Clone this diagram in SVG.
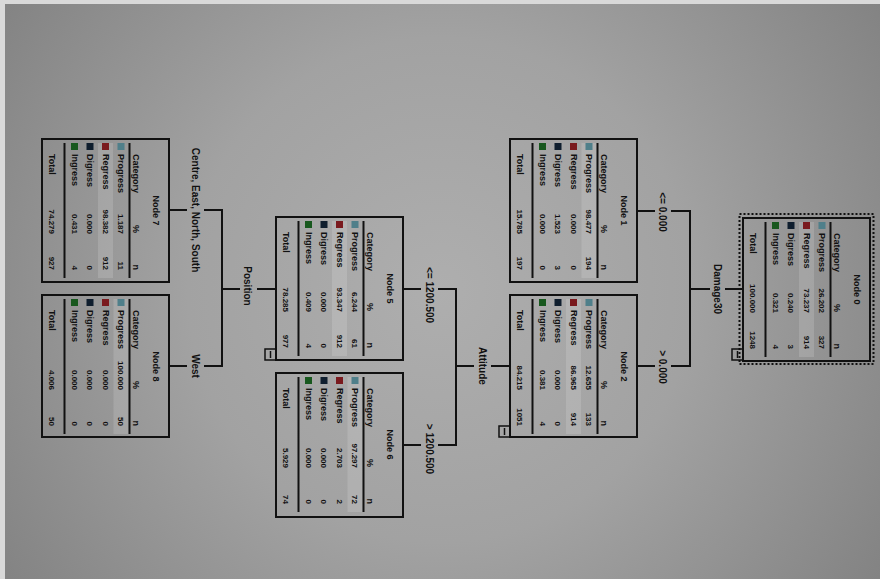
<svg xmlns="http://www.w3.org/2000/svg" width="880" height="579" viewBox="0 0 880 579">
<defs>
<radialGradient id="bg" gradientUnits="userSpaceOnUse" cx="440" cy="290" r="560">
<stop offset="0" stop-color="#aeaeae"/>
<stop offset="0.45" stop-color="#a2a2a2"/>
<stop offset="1" stop-color="#7f7f7f"/>
</radialGradient>
</defs>
<style>
.t{font-family:"Liberation Sans",Arial,sans-serif;font-weight:bold;font-size:9px;fill:#111}
.lb{font-size:10px}
.n{font-size:8px}
.e{text-anchor:end}
.m{text-anchor:middle}
.box{fill:none;stroke:#111;stroke-width:2}
.ln{stroke:#111;stroke-width:2;fill:none}
.hl{fill:#ffffff;fill-opacity:0.14}
.c1{fill:#4f7f8a}
.c2{fill:#7a1a1e}
.c3{fill:#0f1e2e}
.c4{fill:#18581e}
.tg{fill:none;stroke:#111;stroke-width:1.5}
</style>
<rect x="0" y="0" width="880" height="579" fill="#d9d9d9"/>
<rect x="5" y="4" width="875" height="575" fill="url(#bg)"/>

<g id="connectors">
<line class="ln" x1="743" y1="289" x2="725" y2="289"/>
<line class="ln" x1="710" y1="289" x2="690" y2="289"/>
<line class="ln" x1="690" y1="210" x2="690" y2="367"/>
<line class="ln" x1="691" y1="211" x2="671" y2="211"/>
<line class="ln" x1="655" y1="211" x2="637" y2="211"/>
<line class="ln" x1="691" y1="366" x2="671" y2="366"/>
<line class="ln" x1="655" y1="366" x2="637" y2="366"/>
<line class="ln" x1="510" y1="366" x2="491" y2="366"/>
<line class="ln" x1="474" y1="366" x2="456" y2="366"/>
<line class="ln" x1="456" y1="288" x2="456" y2="446"/>
<line class="ln" x1="457" y1="289" x2="438" y2="289"/>
<line class="ln" x1="421" y1="289" x2="403" y2="289"/>
<line class="ln" x1="457" y1="445" x2="438" y2="445"/>
<line class="ln" x1="421" y1="445" x2="403" y2="445"/>
<line class="ln" x1="276" y1="289" x2="257" y2="289"/>
<line class="ln" x1="240" y1="289" x2="222" y2="289"/>
<line class="ln" x1="222" y1="209" x2="222" y2="367"/>
<line class="ln" x1="223" y1="210" x2="204" y2="210"/>
<line class="ln" x1="187" y1="210" x2="169" y2="210"/>
<line class="ln" x1="223" y1="366" x2="204" y2="366"/>
<line class="ln" x1="187" y1="366" x2="169" y2="366"/>
<text class="t lb m" transform="translate(714,289) rotate(90)">Damage30</text>
<text class="t lb m" transform="translate(659,212) rotate(90)">&lt;= 0.000</text>
<text class="t lb m" transform="translate(659,367) rotate(90)">&gt; 0.000</text>
<text class="t lb m" transform="translate(479,366) rotate(90)">Attitude</text>
<text class="t lb m" transform="translate(426,295) rotate(90)">&lt;= 1200.500</text>
<text class="t lb m" transform="translate(426,449) rotate(90)">&gt; 1200.500</text>
<text class="t lb m" transform="translate(244,286) rotate(90)">Position</text>
<text class="t lb m" transform="translate(192,210) rotate(90)">Centre, East, North, South</text>
<text class="t lb m" transform="translate(192,366) rotate(90)">West</text>
</g>

<g id="node0">
<rect x="739.5" y="214" width="134" height="150" fill="none" stroke="#111" stroke-width="2" stroke-dasharray="2,2"/>
<g transform="translate(870,218) rotate(90)">
<rect class="hl" x="4" y="56" width="135" height="15"/>
<rect class="box" x="0" y="0" width="143" height="127"/>
<text class="t m" x="71.5" y="16">Node 0</text>
<text class="t" x="15" y="36">Category</text><text class="t e" x="94" y="36">%</text><text class="t e" x="131" y="36">n</text>
<line class="ln" x1="4" y1="39.5" x2="139" y2="39.5"/>
<rect class="c1" x="4" y="44.5" width="7" height="7"/><text class="t" x="15" y="51">Progress</text><text class="t n e" x="95" y="51">26.202</text><text class="t n e" x="131" y="51">327</text>
<rect class="c2" x="4" y="60" width="7" height="7"/><text class="t" x="15" y="66.5">Regress</text><text class="t n e" x="95" y="66.5">73.237</text><text class="t n e" x="131" y="66.5">914</text>
<rect class="c3" x="4" y="75.5" width="7" height="7"/><text class="t" x="15" y="82">Digress</text><text class="t n e" x="95" y="82">0.240</text><text class="t n e" x="131" y="82">3</text>
<rect class="c4" x="4" y="91" width="7" height="7"/><text class="t" x="15" y="97.5">Ingress</text><text class="t n e" x="95" y="97.5">0.321</text><text class="t n e" x="131" y="97.5">4</text>
<line class="ln" x1="4" y1="104.5" x2="139" y2="104.5"/>
<text class="t" x="15" y="120.5">Total</text><text class="t n e" x="95" y="120.5">100.000</text><text class="t n e" x="131" y="120.5">1248</text>
</g>
<rect class="tg" x="732" y="349" width="11" height="11"/><line class="tg" x1="737.5" y1="351" x2="737.5" y2="358"/>
</g>

<g id="node1">
<g transform="translate(637,139) rotate(90)">
<rect class="hl" x="4" y="40.5" width="135" height="15"/>
<rect class="box" x="0" y="0" width="143" height="127"/>
<text class="t m" x="71.5" y="16">Node 1</text>
<text class="t" x="15" y="36">Category</text><text class="t e" x="94" y="36">%</text><text class="t e" x="131" y="36">n</text>
<line class="ln" x1="4" y1="39.5" x2="139" y2="39.5"/>
<rect class="c1" x="4" y="44.5" width="7" height="7"/><text class="t" x="15" y="51">Progress</text><text class="t n e" x="95" y="51">98.477</text><text class="t n e" x="131" y="51">194</text>
<rect class="c2" x="4" y="60" width="7" height="7"/><text class="t" x="15" y="66.5">Regress</text><text class="t n e" x="95" y="66.5">0.000</text><text class="t n e" x="131" y="66.5">0</text>
<rect class="c3" x="4" y="75.5" width="7" height="7"/><text class="t" x="15" y="82">Digress</text><text class="t n e" x="95" y="82">1.523</text><text class="t n e" x="131" y="82">3</text>
<rect class="c4" x="4" y="91" width="7" height="7"/><text class="t" x="15" y="97.5">Ingress</text><text class="t n e" x="95" y="97.5">0.000</text><text class="t n e" x="131" y="97.5">0</text>
<line class="ln" x1="4" y1="104.5" x2="139" y2="104.5"/>
<text class="t" x="15" y="120.5">Total</text><text class="t n e" x="95" y="120.5">15.785</text><text class="t n e" x="131" y="120.5">197</text>
</g>
</g>

<g id="node2">
<g transform="translate(637,295) rotate(90)">
<rect class="hl" x="4" y="56" width="135" height="15"/>
<rect class="box" x="0" y="0" width="142" height="127"/>
<text class="t m" x="71.5" y="16">Node 2</text>
<text class="t" x="15" y="36">Category</text><text class="t e" x="94" y="36">%</text><text class="t e" x="131" y="36">n</text>
<line class="ln" x1="4" y1="39.5" x2="139" y2="39.5"/>
<rect class="c1" x="4" y="44.5" width="7" height="7"/><text class="t" x="15" y="51">Progress</text><text class="t n e" x="95" y="51">12.655</text><text class="t n e" x="131" y="51">133</text>
<rect class="c2" x="4" y="60" width="7" height="7"/><text class="t" x="15" y="66.5">Regress</text><text class="t n e" x="95" y="66.5">86.965</text><text class="t n e" x="131" y="66.5">914</text>
<rect class="c3" x="4" y="75.5" width="7" height="7"/><text class="t" x="15" y="82">Digress</text><text class="t n e" x="95" y="82">0.000</text><text class="t n e" x="131" y="82">0</text>
<rect class="c4" x="4" y="91" width="7" height="7"/><text class="t" x="15" y="97.5">Ingress</text><text class="t n e" x="95" y="97.5">0.381</text><text class="t n e" x="131" y="97.5">4</text>
<line class="ln" x1="4" y1="104.5" x2="139" y2="104.5"/>
<text class="t" x="15" y="120.5">Total</text><text class="t n e" x="95" y="120.5">84.215</text><text class="t n e" x="131" y="120.5">1051</text>
</g>
<rect class="tg" x="499" y="426" width="11" height="11"/><line class="tg" x1="504.5" y1="428" x2="504.5" y2="435"/>
</g>

<g id="node5">
<g transform="translate(403,217) rotate(90)">
<rect class="hl" x="4" y="56" width="135" height="15"/>
<rect class="box" x="0" y="0" width="143" height="127"/>
<text class="t m" x="71.5" y="16">Node 5</text>
<text class="t" x="15" y="36">Category</text><text class="t e" x="94" y="36">%</text><text class="t e" x="131" y="36">n</text>
<line class="ln" x1="4" y1="39.5" x2="139" y2="39.5"/>
<rect class="c1" x="4" y="44.5" width="7" height="7"/><text class="t" x="15" y="51">Progress</text><text class="t n e" x="95" y="51">6.244</text><text class="t n e" x="131" y="51">61</text>
<rect class="c2" x="4" y="60" width="7" height="7"/><text class="t" x="15" y="66.5">Regress</text><text class="t n e" x="95" y="66.5">93.347</text><text class="t n e" x="131" y="66.5">912</text>
<rect class="c3" x="4" y="75.5" width="7" height="7"/><text class="t" x="15" y="82">Digress</text><text class="t n e" x="95" y="82">0.000</text><text class="t n e" x="131" y="82">0</text>
<rect class="c4" x="4" y="91" width="7" height="7"/><text class="t" x="15" y="97.5">Ingress</text><text class="t n e" x="95" y="97.5">0.409</text><text class="t n e" x="131" y="97.5">4</text>
<line class="ln" x1="4" y1="104.5" x2="139" y2="104.5"/>
<text class="t" x="15" y="120.5">Total</text><text class="t n e" x="95" y="120.5">78.285</text><text class="t n e" x="131" y="120.5">977</text>
</g>
<rect class="tg" x="265" y="349" width="11" height="11"/><line class="tg" x1="270.5" y1="351" x2="270.5" y2="358"/>
</g>

<g id="node6">
<g transform="translate(403,373) rotate(90)">
<rect class="hl" x="4" y="40.5" width="135" height="15"/>
<rect class="box" x="0" y="0" width="144" height="127"/>
<text class="t m" x="71.5" y="16">Node 6</text>
<text class="t" x="15" y="36">Category</text><text class="t e" x="94" y="36">%</text><text class="t e" x="131" y="36">n</text>
<line class="ln" x1="4" y1="39.5" x2="139" y2="39.5"/>
<rect class="c1" x="4" y="44.5" width="7" height="7"/><text class="t" x="15" y="51">Progress</text><text class="t n e" x="95" y="51">97.297</text><text class="t n e" x="131" y="51">72</text>
<rect class="c2" x="4" y="60" width="7" height="7"/><text class="t" x="15" y="66.5">Regress</text><text class="t n e" x="95" y="66.5">2.703</text><text class="t n e" x="131" y="66.5">2</text>
<rect class="c3" x="4" y="75.5" width="7" height="7"/><text class="t" x="15" y="82">Digress</text><text class="t n e" x="95" y="82">0.000</text><text class="t n e" x="131" y="82">0</text>
<rect class="c4" x="4" y="91" width="7" height="7"/><text class="t" x="15" y="97.5">Ingress</text><text class="t n e" x="95" y="97.5">0.000</text><text class="t n e" x="131" y="97.5">0</text>
<line class="ln" x1="4" y1="104.5" x2="139" y2="104.5"/>
<text class="t" x="15" y="120.5">Total</text><text class="t n e" x="95" y="120.5">5.929</text><text class="t n e" x="131" y="120.5">74</text>
</g>
</g>

<g id="node7">
<g transform="translate(169,139) rotate(90)">
<rect class="hl" x="4" y="56" width="135" height="15"/>
<rect class="box" x="0" y="0" width="143" height="127"/>
<text class="t m" x="71.5" y="16">Node 7</text>
<text class="t" x="15" y="36">Category</text><text class="t e" x="94" y="36">%</text><text class="t e" x="131" y="36">n</text>
<line class="ln" x1="4" y1="39.5" x2="139" y2="39.5"/>
<rect class="c1" x="4" y="44.5" width="7" height="7"/><text class="t" x="15" y="51">Progress</text><text class="t n e" x="95" y="51">1.187</text><text class="t n e" x="131" y="51">11</text>
<rect class="c2" x="4" y="60" width="7" height="7"/><text class="t" x="15" y="66.5">Regress</text><text class="t n e" x="95" y="66.5">98.382</text><text class="t n e" x="131" y="66.5">912</text>
<rect class="c3" x="4" y="75.5" width="7" height="7"/><text class="t" x="15" y="82">Digress</text><text class="t n e" x="95" y="82">0.000</text><text class="t n e" x="131" y="82">0</text>
<rect class="c4" x="4" y="91" width="7" height="7"/><text class="t" x="15" y="97.5">Ingress</text><text class="t n e" x="95" y="97.5">0.431</text><text class="t n e" x="131" y="97.5">4</text>
<line class="ln" x1="4" y1="104.5" x2="139" y2="104.5"/>
<text class="t" x="15" y="120.5">Total</text><text class="t n e" x="95" y="120.5">74.279</text><text class="t n e" x="131" y="120.5">927</text>
</g>
</g>

<g id="node8">
<g transform="translate(169,295) rotate(90)">
<rect class="hl" x="4" y="40.5" width="135" height="15"/>
<rect class="box" x="0" y="0" width="142" height="127"/>
<text class="t m" x="71.5" y="16">Node 8</text>
<text class="t" x="15" y="36">Category</text><text class="t e" x="94" y="36">%</text><text class="t e" x="131" y="36">n</text>
<line class="ln" x1="4" y1="39.5" x2="139" y2="39.5"/>
<rect class="c1" x="4" y="44.5" width="7" height="7"/><text class="t" x="15" y="51">Progress</text><text class="t n e" x="95" y="51">100.000</text><text class="t n e" x="131" y="51">50</text>
<rect class="c2" x="4" y="60" width="7" height="7"/><text class="t" x="15" y="66.5">Regress</text><text class="t n e" x="95" y="66.5">0.000</text><text class="t n e" x="131" y="66.5">0</text>
<rect class="c3" x="4" y="75.5" width="7" height="7"/><text class="t" x="15" y="82">Digress</text><text class="t n e" x="95" y="82">0.000</text><text class="t n e" x="131" y="82">0</text>
<rect class="c4" x="4" y="91" width="7" height="7"/><text class="t" x="15" y="97.5">Ingress</text><text class="t n e" x="95" y="97.5">0.000</text><text class="t n e" x="131" y="97.5">0</text>
<line class="ln" x1="4" y1="104.5" x2="139" y2="104.5"/>
<text class="t" x="15" y="120.5">Total</text><text class="t n e" x="95" y="120.5">4.006</text><text class="t n e" x="131" y="120.5">50</text>
</g>
</g>
</svg>
